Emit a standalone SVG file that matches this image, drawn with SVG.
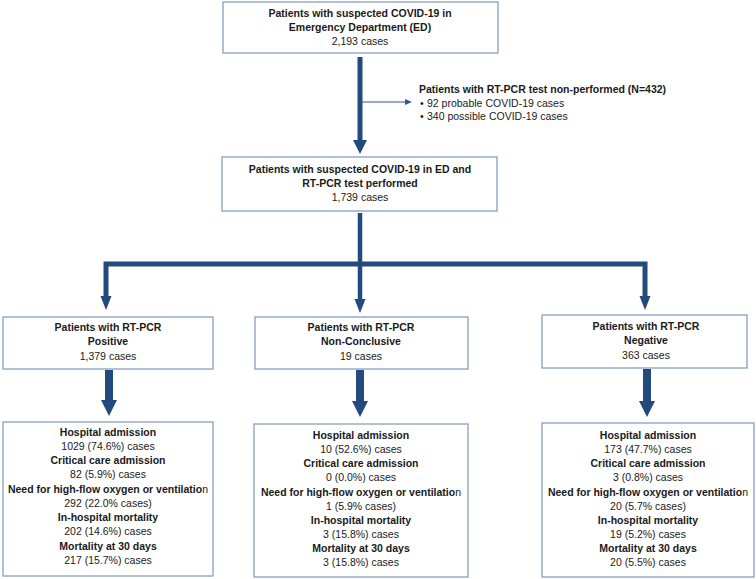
<svg xmlns="http://www.w3.org/2000/svg" width="756" height="579" viewBox="0 0 756 579">
<style>
.box{fill:#fff;stroke:#7f97bd;stroke-width:1.2}
text{font-family:"Liberation Sans",Arial,sans-serif;font-size:10.5px;fill:#1a1a1a}
.c{text-anchor:middle}
.b{font-weight:bold}
.n{font-weight:normal}
.sh{stroke:#234a7c;fill:none}
.hd{fill:#234a7c}
</style>
<rect width="756" height="579" fill="#fff"/>
<g id="connectors">
<line class="sh" x1="360" y1="57" x2="360" y2="141" stroke-width="5"/>
<polygon class="hd" points="353,140 367,140 360,154"/>
<line x1="360" y1="102" x2="406" y2="102" stroke="#2f5597" stroke-width="1"/>
<polygon points="405,99 412,102 405,105" fill="#2f5597"/>
<line class="sh" x1="360" y1="213" x2="360" y2="300" stroke-width="4.5"/>
<polyline class="sh" points="106,298 106,264 645,264 645,298" stroke-width="5"/>
<polygon class="hd" points="100.5,296 111.5,296 106,310"/>
<polygon class="hd" points="354.5,299 365.5,299 360,313"/>
<polygon class="hd" points="639.5,296 650.5,296 645,310"/>
<line class="sh" x1="109" y1="370" x2="109" y2="402" stroke-width="8"/>
<polygon class="hd" points="101,400 117,400 109,416"/>
<line class="sh" x1="360" y1="370" x2="360" y2="403" stroke-width="8"/>
<polygon class="hd" points="352,401 368,401 360,417"/>
<line class="sh" x1="647" y1="369" x2="647" y2="403" stroke-width="8"/>
<polygon class="hd" points="639,401 655,401 647,417"/>
</g>
<g id="n-ed">
<rect class="box" x="223" y="2" width="275" height="51"/>
<text class="c b" x="360" y="17">Patients with suspected COVID-19 in</text>
<text class="c b" x="360" y="31">Emergency Department (ED)</text>
<text class="c" x="360" y="45">2,193 cases</text>
</g>
<g id="n-nonperformed">
<text class="b" x="419" y="93">Patients with RT-PCR test non-performed (N=432)</text>
<text x="420" y="107">•<tspan x="427">92 probable COVID-19 cases</tspan></text>
<text x="420" y="120">•<tspan x="427">340 possible COVID-19 cases</tspan></text>
</g>
<g id="n-performed">
<rect class="box" x="222" y="157" width="275" height="54"/>
<text class="c b" x="360" y="173">Patients with suspected COVID-19 in ED and</text>
<text class="c b" x="360" y="187">RT-PCR test performed</text>
<text class="c" x="360" y="201">1,739 cases</text>
</g>
<g id="n-positive">
<rect class="box" x="3" y="317" width="210" height="52"/>
<text class="c b" x="108" y="331">Patients with RT-PCR</text>
<text class="c b" x="108" y="345">Positive</text>
<text class="c" x="108" y="360">1,379 cases</text>
</g>
<g id="n-nonconclusive">
<rect class="box" x="255" y="317" width="213" height="52"/>
<text class="c b" x="361" y="331">Patients with RT-PCR</text>
<text class="c b" x="361" y="345">Non-Conclusive</text>
<text class="c" x="361" y="360">19 cases</text>
</g>
<g id="n-negative">
<rect class="box" x="542" y="315" width="205" height="53"/>
<text class="c b" x="646" y="330">Patients with RT-PCR</text>
<text class="c b" x="646" y="344">Negative</text>
<text class="c" x="646" y="359">363 cases</text>
</g>
<g id="n-positive-outcomes">
<rect class="box" x="3" y="422" width="210" height="154"/>
<text class="c b" x="108" y="436">Hospital admission</text>
<text class="c" x="108" y="450">1029 (74.6%) cases</text>
<text class="c b" x="108" y="464">Critical care admission</text>
<text class="c" x="108" y="478">82 (5.9%) cases</text>
<text class="c b" x="108" y="493">Need for high-flow oxygen or ventilatio<tspan class="n">n</tspan></text>
<text class="c" x="108" y="507">292 (22.0% cases)</text>
<text class="c b" x="108" y="521">In-hospital mortality</text>
<text class="c" x="108" y="535">202 (14.6%) cases</text>
<text class="c b" x="108" y="550">Mortality at 30 days</text>
<text class="c" x="108" y="564">217 (15.7%) cases</text>
</g>
<g id="n-nonconclusive-outcomes">
<rect class="box" x="254" y="424" width="214" height="153"/>
<text class="c b" x="361" y="439">Hospital admission</text>
<text class="c" x="361" y="453">10 (52.6%) cases</text>
<text class="c b" x="361" y="467">Critical care admission</text>
<text class="c" x="361" y="481">0 (0.0%) cases</text>
<text class="c b" x="361" y="496">Need for high-flow oxygen or ventilatio<tspan class="n">n</tspan></text>
<text class="c" x="361" y="510">1 (5.9% cases)</text>
<text class="c b" x="361" y="524">In-hospital mortality</text>
<text class="c" x="361" y="538">3 (15.8%) cases</text>
<text class="c b" x="361" y="552">Mortality at 30 days</text>
<text class="c" x="361" y="566">3 (15.8%) cases</text>
</g>
<g id="n-negative-outcomes">
<rect class="box" x="542" y="423" width="212" height="154"/>
<text class="c b" x="648" y="439">Hospital admission</text>
<text class="c" x="648" y="453">173 (47.7%) cases</text>
<text class="c b" x="648" y="467">Critical care admission</text>
<text class="c" x="648" y="481">3 (0.8%) cases</text>
<text class="c b" x="648" y="496">Need for high-flow oxygen or ventilatio<tspan class="n">n</tspan></text>
<text class="c" x="648" y="510">20 (5.7% cases)</text>
<text class="c b" x="648" y="524">In-hospital mortality</text>
<text class="c" x="648" y="538">19 (5.2%) cases</text>
<text class="c b" x="648" y="552">Mortality at 30 days</text>
<text class="c" x="648" y="566">20 (5.5%) cases</text>
</g>
</svg>
